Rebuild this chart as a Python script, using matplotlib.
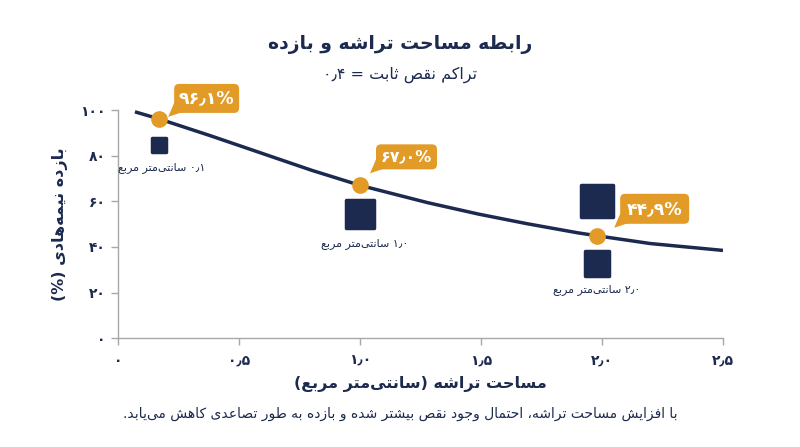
import re
import matplotlib
matplotlib.use("Agg")
import matplotlib.pyplot as plt
from matplotlib.patches import FancyBboxPatch, Polygon
from matplotlib.markers import MarkerStyle
from matplotlib.transforms import ScaledTranslation

# data
curve_x = [0.07, 0.17, 0.38, 0.59, 0.80, 1.00, 1.28, 1.49, 1.69, 1.90, 1.98, 2.20, 2.50]
curve_y = [99.2, 96.1, 88.8, 81.2, 73.6, 67.0, 59.4, 54.4, 50.2, 46.2, 44.9, 41.5, 38.5]

point_x = [0.17, 1.00, 1.98]
point_y = [96.1, 67.0, 44.9]
point_labels = ["۹۶٫۱%", "۶۷٫۰%", "۴۴٫۹%"]

die_x = [0.17, 1.00, 1.98, 1.98]
die_y = [84.7, 54.4, 60.1, 32.8]
die_side_px = [17, 30, 35, 27]

area_label_x = [0.18, 1.02, 1.98]
area_label_y = [74.6, 41.7, 21.2]
area_labels = ["۰٫۱ سانتی‌متر مربع", "۱٫۰ سانتی‌متر مربع", "۲٫۰ سانتی‌متر مربع"]

x_ticks = [0, 0.5, 1.0, 1.5, 2.0, 2.5]
x_tick_labels = ["۰", "۰٫۵", "۱٫۰", "۱٫۵", "۲٫۰", "۲٫۵"]
y_ticks = [0, 20, 40, 60, 80, 100]
y_tick_labels = ["۰", "۲۰", "۴۰", "۶۰", "۸۰", "۱۰۰"]

title = "رابطه مساحت تراشه و بازده"
subtitle = "تراکم نقص ثابت = ۰٫۴"
x_label = "مساحت تراشه (سانتی‌متر مربع)"
y_label = "بازده نیمه‌هادی (%)"
footer = "با افزایش مساحت تراشه، احتمال وجود نقص بیشتر شده و بازده به طور تصاعدی کاهش می‌یابد."

NAVY = "#1b2a4e"
ORANGE = "#e29b27"
GREY = "#a8a8a8"

# minimal Persian shaping + right-to-left ordering (matplotlib has no bidi)
DUAL = {"ب": 0xFE8F, "ت": 0xFE95, "ث": 0xFE99, "ج": 0xFE9D, "ح": 0xFEA1, "خ": 0xFEA5,
        "س": 0xFEB1, "ش": 0xFEB5, "ص": 0xFEB9, "ض": 0xFEBD, "ط": 0xFEC1, "ظ": 0xFEC5,
        "ع": 0xFEC9, "غ": 0xFECD, "ف": 0xFED1, "ق": 0xFED5, "ل": 0xFEDD, "م": 0xFEE1,
        "ن": 0xFEE5, "ه": 0xFEE9, "ک": 0xFB8E, "ی": 0xFBFC, "پ": 0xFB56, "گ": 0xFB92}
RIGHT = {"ا": 0xFE8D, "د": 0xFEA9, "ذ": 0xFEAB, "ر": 0xFEAD, "ز": 0xFEAF, "و": 0xFEED, "ژ": 0xFB8A}
MIRROR = str.maketrans("()", ")(")


def shape(s):
    out = []
    for i, ch in enumerate(s):
        base = DUAL.get(ch) or RIGHT.get(ch)
        if base is None:
            out.append(ch)
            continue
        prev = s[i - 1] if i > 0 else ""
        nxt = s[i + 1] if i + 1 < len(s) else ""
        left = prev in DUAL
        right = ch in DUAL and (nxt in DUAL or nxt in RIGHT)
        form = 3 if (left and right) else 2 if right else 1 if left else 0
        out.append(chr(base + form))
    return "".join(out).replace("\u200c", "")


def rtl(s):
    runs = re.findall(r"[۰-۹٫%]+|[^۰-۹٫%]+", shape(s))
    parts = []
    for r in reversed(runs):
        if r[0] in "۰۱۲۳۴۵۶۷۸۹٫%":
            parts.append(r)
        else:
            parts.append(r[::-1].translate(MIRROR))
    return "".join(parts)


plt.rcParams["font.family"] = ["DejaVu Sans"]

fig = plt.figure(figsize=(8, 4.47), dpi=100)
ax = fig.add_axes([118 / 800, (447 - 338.3) / 447, 605 / 800, 228.3 / 447])

ax.plot(curve_x, curve_y, color=NAVY, lw=2.5, solid_capstyle="butt", solid_joinstyle="round", zorder=3)
ax.plot(point_x, point_y, "o", color=ORANGE, ms=11, zorder=5)

sq = MarkerStyle("s", joinstyle="round")
ax.scatter(die_x, die_y, s=[(p * 0.72 - 2) ** 2 for p in die_side_px], marker=sq,
           color=NAVY, edgecolors=NAVY, linewidths=2.5, zorder=4)

for x, y, t in zip(area_label_x, area_label_y, area_labels):
    ax.text(x, y, rtl(t), ha="center", va="center", fontsize=8, color=NAVY, zorder=6)

# callout boxes, offsets in pixels from each point (right, up)
box_px = [(15, 6, 65, 29), (16, 16, 61, 25), (23, 12, 69, 30)]
box_fs = [12.5, 11.5, 12.5]
for x, y, t, (bx, by, bw, bh), fs in zip(point_x, point_y, point_labels, box_px, box_fs):
    tr = fig.dpi_scale_trans + ScaledTranslation(x, y, ax.transData)
    ax.add_patch(FancyBboxPatch((bx / 100, by / 100), bw / 100, bh / 100,
                                boxstyle="round,pad=0,rounding_size=0.05",
                                fc=ORANGE, ec="none", transform=tr, zorder=6, clip_on=False))
    ax.add_patch(Polygon([(bx / 100, (by + 10) / 100), ((bx + 12) / 100, by / 100 + 0.02),
                          ((bx - 6) / 100, (by - 4) / 100)], closed=True,
                         fc=ORANGE, ec="none", transform=tr, zorder=6, clip_on=False))
    ax.text((bx + bw / 2) / 100, (by + bh / 2) / 100, t, transform=tr, ha="center", va="center",
            fontsize=fs, fontweight="bold", color="white", zorder=7)

ax.set_xlim(0, 2.5)
ax.set_ylim(0, 100)
ax.set_xticks(x_ticks)
ax.set_xticklabels(x_tick_labels)
ax.set_yticks(y_ticks)
ax.set_yticklabels(y_tick_labels)
for lab in ax.get_xticklabels() + ax.get_yticklabels():
    lab.set_fontweight("bold")
ax.tick_params(axis="both", colors=GREY, length=5, width=1, labelcolor=NAVY, labelsize=10)
ax.tick_params(axis="y", pad=4)
ax.tick_params(axis="x", pad=6)
for side in ["top", "right"]:
    ax.spines[side].set_visible(False)
for side in ["left", "bottom"]:
    ax.spines[side].set_color(GREY)
    ax.spines[side].set_linewidth(1)

ax.set_xlabel(rtl(x_label), fontsize=11.5, fontweight="bold", color=NAVY, labelpad=6)
ax.set_ylabel(rtl(y_label), fontsize=11.5, fontweight="bold", color=NAVY, labelpad=9)

fig.text(0.5, 1 - 44 / 447, rtl(title), ha="center", va="center", fontsize=13.5,
         fontweight="bold", color=NAVY)
fig.text(0.5, 1 - 75 / 447, rtl(subtitle), ha="center", va="center", fontsize=11.5, color=NAVY)
fig.text(0.5, 1 - 414 / 447, rtl(footer), ha="center", va="center", fontsize=10, color=NAVY)

fig.savefig("out.png", dpi=100)
